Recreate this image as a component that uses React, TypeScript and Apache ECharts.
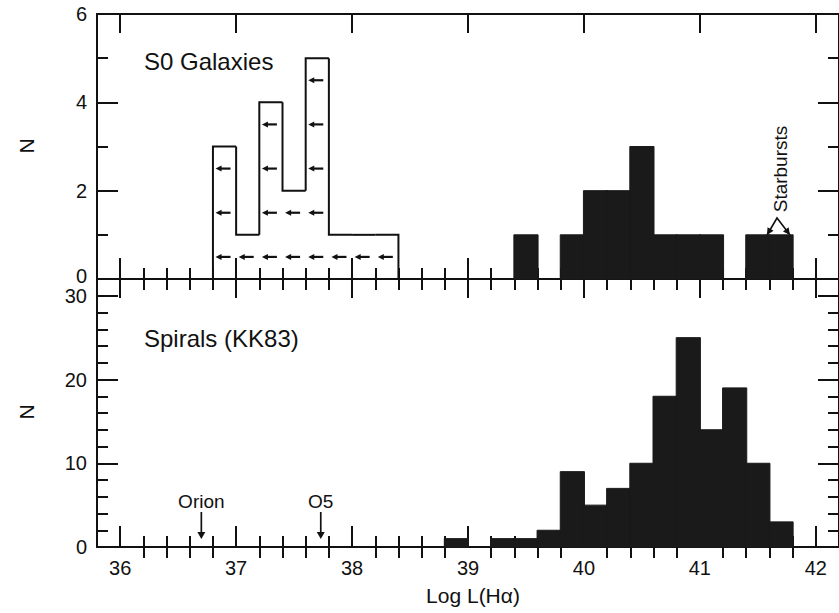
import React, { useEffect, useRef } from "react";
import * as echarts from "echarts";

const BIN = 0.2;
const X_MIN = 35.8;
const X_MAX = 42.2;
const xTickLabels = [36, 37, 38, 39, 40, 41, 42];
const topYTicks = [0, 2, 4, 6];
const bottomYTicks = [0, 10, 20, 30];

// S0 galaxies: upper limits (open histogram with arrows), 0.2-dex bins from 36.8
const s0LimitStart = 36.8;
const s0LimitCounts = [3, 1, 4, 2, 5, 1, 1, 1];
// S0 galaxies: detections (filled)
const s0DetStarts = [39.4, 39.8, 40.0, 40.2, 40.4, 40.6, 40.8, 41.0, 41.4, 41.6];
const s0DetCounts = [1, 1, 2, 2, 3, 1, 1, 1, 1, 1];
// Spirals (KK83)
const spiralStarts = [38.8, 39.2, 39.4, 39.6, 39.8, 40.0, 40.2, 40.4, 40.6, 40.8, 41.0, 41.2, 41.4, 41.6];
const spiralCounts = [1, 1, 1, 2, 9, 5, 7, 10, 18, 25, 14, 19, 10, 3];
// reference markers in the lower panel
const markerNames = ["Orion", "O5"];
const markerX = [36.7, 37.73];

const FONT = "'Liberation Sans', Arial, Helvetica, sans-serif";
const INK = "#111";
const BAR = "#1a1a1a";

const xMinor: number[] = [];
for (let i = 1; i < 32; i++) {
  const v = Math.round((X_MIN + i * BIN) * 10) / 10;
  if (!Number.isInteger(v)) xMinor.push(v);
}
const topYMinor = [1, 3, 5];
const bottomYMinor: number[] = [];
for (let v = 2; v < 32; v += 2) if (v % 10 !== 0) bottomYMinor.push(v);

const lineStyle = { color: INK, width: 2 };

function xAxes(grid: number, showLabels: boolean) {
  const common = { type: "value", gridIndex: grid, min: X_MIN, max: X_MAX, splitLine: { show: false } };
  const major = (position: string) => ({
    ...common,
    position,
    axisLine: { show: true, onZero: false, lineStyle },
    axisTick: { show: true, inside: true, length: position === "top" ? 19 : 21, customValues: xTickLabels, lineStyle },
    axisLabel: {
      show: showLabels && position === "bottom",
      customValues: xTickLabels,
      color: INK,
      fontSize: 20,
      fontFamily: FONT,
      margin: 11,
    },
  });
  const minor = (position: string) => ({
    ...common,
    position,
    axisLine: { show: false },
    axisTick: { show: true, inside: true, length: 11, customValues: xMinor, lineStyle },
    axisLabel: { show: false },
  });
  return [major("bottom"), minor("bottom"), major("top"), minor("top")];
}

function yAxes(grid: number, max: number, ticks: number[], labels: number[], minorTicks: number[]) {
  const common = { type: "value", gridIndex: grid, min: 0, max, splitLine: { show: false } };
  const major = (position: string) => ({
    ...common,
    position,
    axisLine: { show: true, onZero: false, lineStyle },
    axisTick: { show: true, inside: true, length: 21, customValues: ticks, lineStyle },
    axisLabel: {
      show: position === "left",
      customValues: labels,
      color: INK,
      fontSize: 20,
      fontFamily: FONT,
      margin: 10,
    },
  });
  const minor = (position: string) => ({
    ...common,
    position,
    axisLine: { show: false },
    axisTick: { show: true, inside: true, length: 11, customValues: minorTicks, lineStyle },
    axisLabel: { show: false },
  });
  return [major("left"), minor("left"), major("right"), minor("right")];
}

function barSeries(xi: number, yi: number, starts: number[], counts: number[]) {
  return {
    type: "custom",
    xAxisIndex: xi,
    yAxisIndex: yi,
    z: 1,
    data: starts.map((s, i) => [s, counts[i]]),
    encode: { x: 0, y: 1 },
    renderItem: (_p: any, api: any) => {
      const x0 = api.value(0);
      const h = api.value(1);
      const a = api.coord([x0, 0]);
      const b = api.coord([x0 + BIN, h]);
      return {
        type: "rect",
        shape: { x: a[0] - 0.5, y: b[1], width: b[0] - a[0] + 1, height: a[1] - b[1] },
        style: { fill: BAR, stroke: BAR, lineWidth: 1 },
      };
    },
  };
}

function outlineSeries() {
  const data = s0LimitCounts.map((h, i) => [
    Math.round((s0LimitStart + i * BIN) * 10) / 10,
    h,
    i === 0 ? 0 : s0LimitCounts[i - 1],
    i === s0LimitCounts.length - 1 ? 1 : 0,
  ]);
  return {
    type: "custom",
    xAxisIndex: 0,
    yAxisIndex: 0,
    data,
    encode: { x: 0, y: 1 },
    renderItem: (_p: any, api: any) => {
      const x0 = api.value(0);
      const h = api.value(1);
      const prev = api.value(2);
      const last = api.value(3);
      const pts = [api.coord([x0, prev]), api.coord([x0, h]), api.coord([x0 + BIN, h])];
      if (last) pts.push(api.coord([x0 + BIN, 0]));
      return { type: "polyline", shape: { points: pts }, style: { stroke: INK, lineWidth: 2, fill: "none" } };
    },
  };
}

function limitArrowSeries() {
  const data: number[][] = [];
  s0LimitCounts.forEach((h, i) => {
    const c = s0LimitStart + i * BIN + BIN / 2;
    for (let k = 0; k < h; k++) data.push([c, k + 0.5]);
  });
  return {
    type: "custom",
    xAxisIndex: 0,
    yAxisIndex: 0,
    data,
    encode: { x: 0, y: 1 },
    renderItem: (_p: any, api: any) => {
      const p = api.coord([api.value(0), api.value(1)]);
      const cx = p[0] - 1;
      const cy = p[1];
      return {
        type: "group",
        children: [
          { type: "line", shape: { x1: cx - 3, y1: cy, x2: cx + 7, y2: cy }, style: { stroke: INK, lineWidth: 2.2 } },
          {
            type: "polygon",
            shape: { points: [[cx - 8, cy], [cx - 2, cy - 3], [cx - 2, cy + 3]] },
            style: { fill: INK },
          },
        ],
      };
    },
  };
}

function markerSeries() {
  return {
    type: "custom",
    xAxisIndex: 4,
    yAxisIndex: 4,
    data: markerX.map((x, i) => [x, 0, i]),
    encode: { x: 0, y: 1 },
    renderItem: (_p: any, api: any) => {
      const p = api.coord([api.value(0), 0]);
      const x = p[0];
      const base = p[1];
      const name = markerNames[api.value(2)];
      return {
        type: "group",
        children: [
          {
            type: "text",
            style: {
              x,
              y: base - 46,
              text: name,
              fill: INK,
              font: `19px ${FONT}`,
              align: "center",
              verticalAlign: "middle",
            },
          },
          { type: "line", shape: { x1: x, y1: base - 35, x2: x, y2: base - 13 }, style: { stroke: INK, lineWidth: 1.7 } },
          {
            type: "polygon",
            shape: { points: [[x - 4, base - 15], [x + 4, base - 15], [x, base - 8]] },
            style: { fill: INK },
          },
        ],
      };
    },
  };
}

function headPts(tx: number, ty: number, fx: number, fy: number, len = 7, hw = 3.5) {
  const dx = tx - fx;
  const dy = ty - fy;
  const d = Math.hypot(dx, dy);
  const ux = dx / d;
  const uy = dy / d;
  const bx = tx - ux * len;
  const by = ty - uy * len;
  return [[tx, ty], [bx - uy * hw, by + ux * hw], [bx + uy * hw, by - ux * hw]];
}

export default function App() {
  const ref = useRef<HTMLDivElement>(null);
  useEffect(() => {
    if (!ref.current) return;
    const chart = echarts.init(ref.current, undefined, { renderer: "svg" });
    const vx = 777, vy = 218;
    const lx = 767, ly = 235;
    const rx = 790, ry = 235;
    chart.setOption({
      animation: false,
      backgroundColor: "#fff",
      grid: [
        { left: 97, top: 14, width: 752, height: 265 },
        { left: 97, top: 279, width: 752, height: 268 },
      ],
      xAxis: [...xAxes(0, false), ...xAxes(1, true)],
      yAxis: [
        ...yAxes(0, 6, topYTicks, topYTicks.filter((v) => v !== 0), topYMinor),
        ...yAxes(1, 32, bottomYTicks, bottomYTicks, bottomYMinor),
      ],
      series: [
        barSeries(0, 0, s0DetStarts, s0DetCounts),
        outlineSeries(),
        limitArrowSeries(),
        barSeries(4, 4, spiralStarts, spiralCounts),
        markerSeries(),
      ],
      graphic: [
        {
          type: "text",
          x: 87,
          y: 286,
          style: { text: String(topYTicks[0]), fill: INK, font: `20px ${FONT}`, align: "right", verticalAlign: "bottom" },
        },
        {
          type: "text",
          x: 144,
          y: 61,
          style: { text: "S0 Galaxies", fill: INK, font: `24px ${FONT}`, verticalAlign: "middle" },
        },
        {
          type: "text",
          x: 144,
          y: 338,
          style: { text: "Spirals (KK83)", fill: INK, font: `24px ${FONT}`, verticalAlign: "middle" },
        },
        {
          type: "text",
          x: 26,
          y: 146,
          rotation: Math.PI / 2,
          style: { text: "N", fill: INK, font: `21px ${FONT}`, align: "center", verticalAlign: "middle" },
        },
        {
          type: "text",
          x: 26,
          y: 412,
          rotation: Math.PI / 2,
          style: { text: "N", fill: INK, font: `21px ${FONT}`, align: "center", verticalAlign: "middle" },
        },
        {
          type: "text",
          x: 473,
          y: 595,
          style: { text: "Log L(Hα)", fill: INK, font: `21px ${FONT}`, align: "center", verticalAlign: "middle" },
        },
        {
          type: "text",
          x: 780,
          y: 169,
          rotation: Math.PI / 2,
          style: { text: "Starbursts", fill: INK, font: `19px ${FONT}`, align: "center", verticalAlign: "middle" },
        },
        { type: "polyline", shape: { points: [[lx, ly], [vx, vy], [rx, ry]] }, style: { stroke: INK, lineWidth: 1.6, fill: "none" } },
        { type: "polygon", shape: { points: headPts(lx, ly, vx, vy) }, style: { fill: INK } },
        { type: "polygon", shape: { points: headPts(rx, ry, vx, vy) }, style: { fill: INK } },
      ],
    });
    return () => chart.dispose();
  }, []);
  return (
    <div
      ref={ref}
      style={{ position: "absolute", left: 0, top: 0, width: 839, height: 613, background: "#fff" }}
    />
  );
}
